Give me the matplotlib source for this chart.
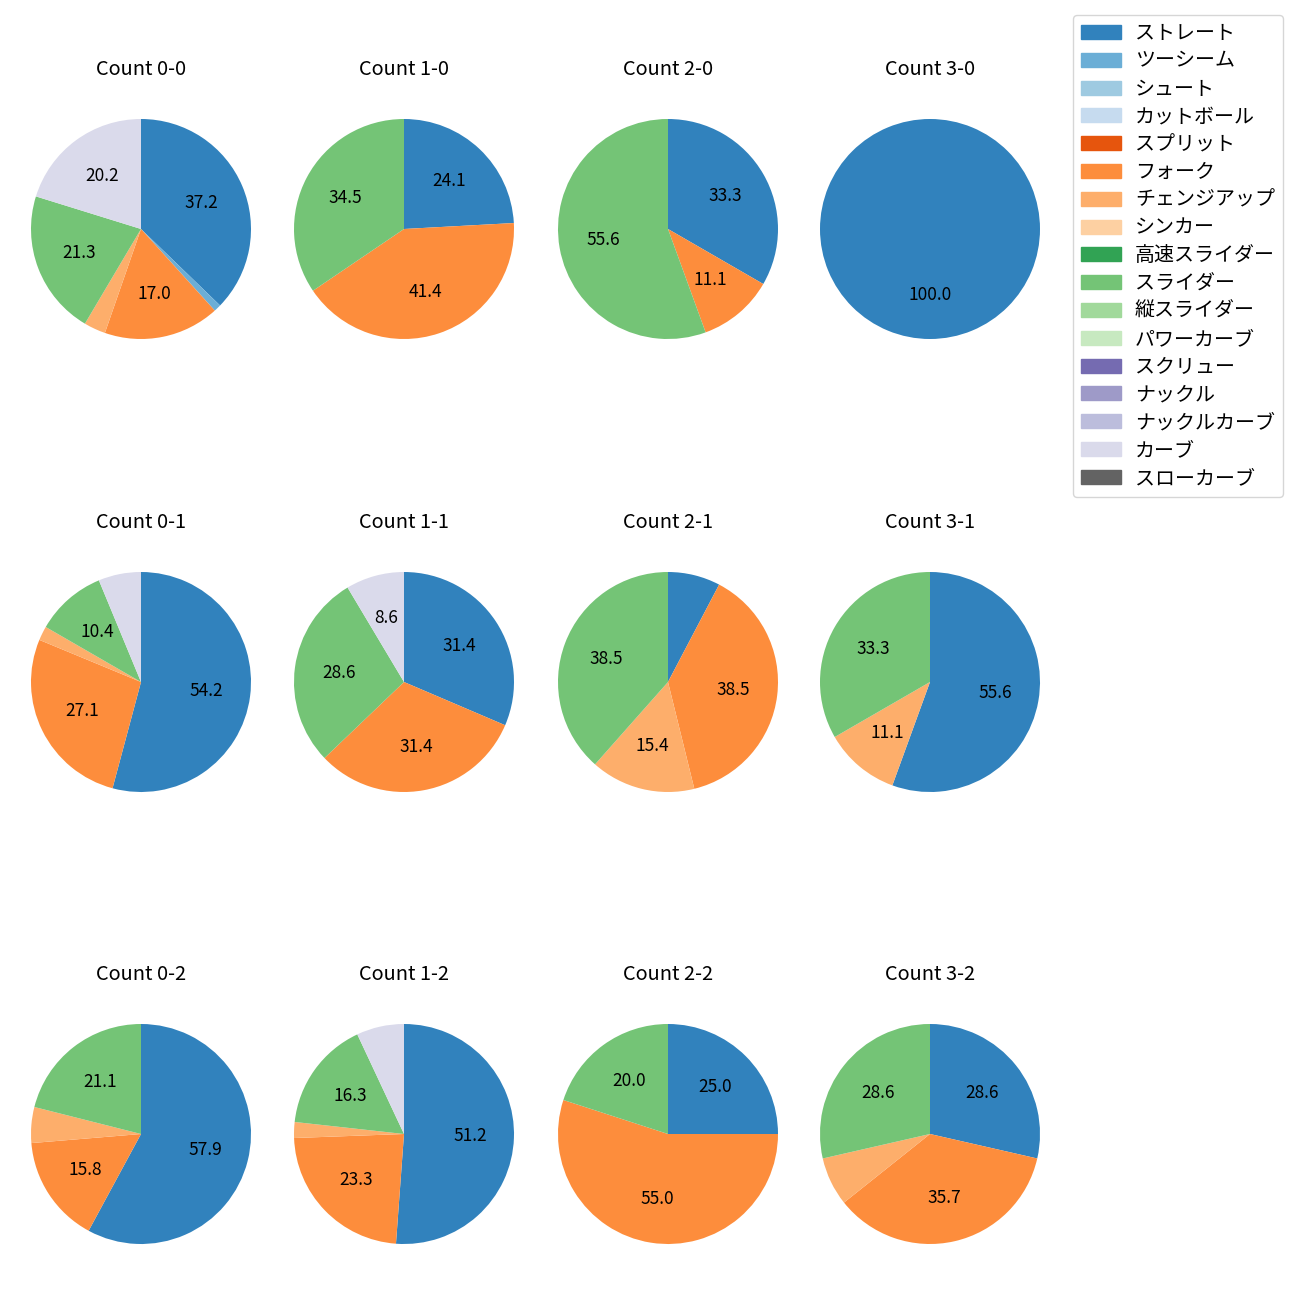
import matplotlib
matplotlib.use("Agg")
import matplotlib.pyplot as plt
import matplotlib.patches as mpatches

plt.rcParams['font.family'] = ['Noto Sans CJK JP', 'DejaVu Sans']
plt.rcParams['font.size'] = 12

# pitch types and colours (tab20c order)
pitch_types = ['ストレート', 'ツーシーム', 'シュート', 'カットボール', 'スプリット', 'フォーク',
               'チェンジアップ', 'シンカー', '高速スライダー', 'スライダー', '縦スライダー',
               'パワーカーブ', 'スクリュー', 'ナックル', 'ナックルカーブ', 'カーブ', 'スローカーブ']
colors = ['#3182bd', '#6baed6', '#9ecae1', '#c6dbef', '#e6550d', '#fd8d3c', '#fdae6b',
          '#fdd0a2', '#31a354', '#74c476', '#a1d99b', '#c7e9c0', '#756bb1', '#9e9ac8',
          '#bcbddc', '#dadaeb', '#636363']

# pitch counts per ball-strike count, in pitch_types order
counts = {
    '0-0': [35, 1, 0, 0, 0, 16, 3, 0, 0, 20, 0, 0, 0, 0, 0, 19, 0],
    '1-0': [7, 0, 0, 0, 0, 12, 0, 0, 0, 10, 0, 0, 0, 0, 0, 0, 0],
    '2-0': [3, 0, 0, 0, 0, 1, 0, 0, 0, 5, 0, 0, 0, 0, 0, 0, 0],
    '3-0': [1, 0, 0, 0, 0, 0, 0, 0, 0, 0, 0, 0, 0, 0, 0, 0, 0],
    '0-1': [26, 0, 0, 0, 0, 13, 1, 0, 0, 5, 0, 0, 0, 0, 0, 3, 0],
    '1-1': [11, 0, 0, 0, 0, 11, 0, 0, 0, 10, 0, 0, 0, 0, 0, 3, 0],
    '2-1': [1, 0, 0, 0, 0, 5, 2, 0, 0, 5, 0, 0, 0, 0, 0, 0, 0],
    '3-1': [5, 0, 0, 0, 0, 0, 1, 0, 0, 3, 0, 0, 0, 0, 0, 0, 0],
    '0-2': [11, 0, 0, 0, 0, 3, 1, 0, 0, 4, 0, 0, 0, 0, 0, 0, 0],
    '1-2': [22, 0, 0, 0, 0, 10, 1, 0, 0, 7, 0, 0, 0, 0, 0, 3, 0],
    '2-2': [5, 0, 0, 0, 0, 11, 0, 0, 0, 4, 0, 0, 0, 0, 0, 0, 0],
    '3-2': [4, 0, 0, 0, 0, 5, 1, 0, 0, 4, 0, 0, 0, 0, 0, 0, 0],
}

W = H = 1300
col_x = [141, 404, 668, 930]
row_y = [229, 682, 1134]
size = 275

fig = plt.figure(figsize=(13, 13), dpi=100)

for strikes in range(3):
    for balls in range(4):
        key = f'{balls}-{strikes}'
        cx, cy = col_x[balls], row_y[strikes]
        ax = fig.add_axes([(cx - size / 2) / W, 1 - (cy + size / 2) / H, size / W, size / H])
        vals = counts[key]
        vs = [v for v in vals if v > 0]
        cs = [c for v, c in zip(vals, colors) if v > 0]
        ax.pie(vs, colors=cs, startangle=90, counterclock=False,
               autopct=lambda p: f'{p:.1f}' if p > 8 else '',
               textprops={'fontsize': 12.5})
        ax.set_title(f'Count {key}', fontsize=14.4, pad=12)

handles = [mpatches.Patch(color=c, label=p) for p, c in zip(pitch_types, colors)]
fig.legend(handles=handles, loc='upper right', bbox_to_anchor=(1283 / W, 1 - 15 / H),
           bbox_transform=fig.transFigure, borderaxespad=0, fontsize=14.4,
           labelspacing=0.34, handletextpad=0.7)

fig.savefig('out.png', dpi=100)
